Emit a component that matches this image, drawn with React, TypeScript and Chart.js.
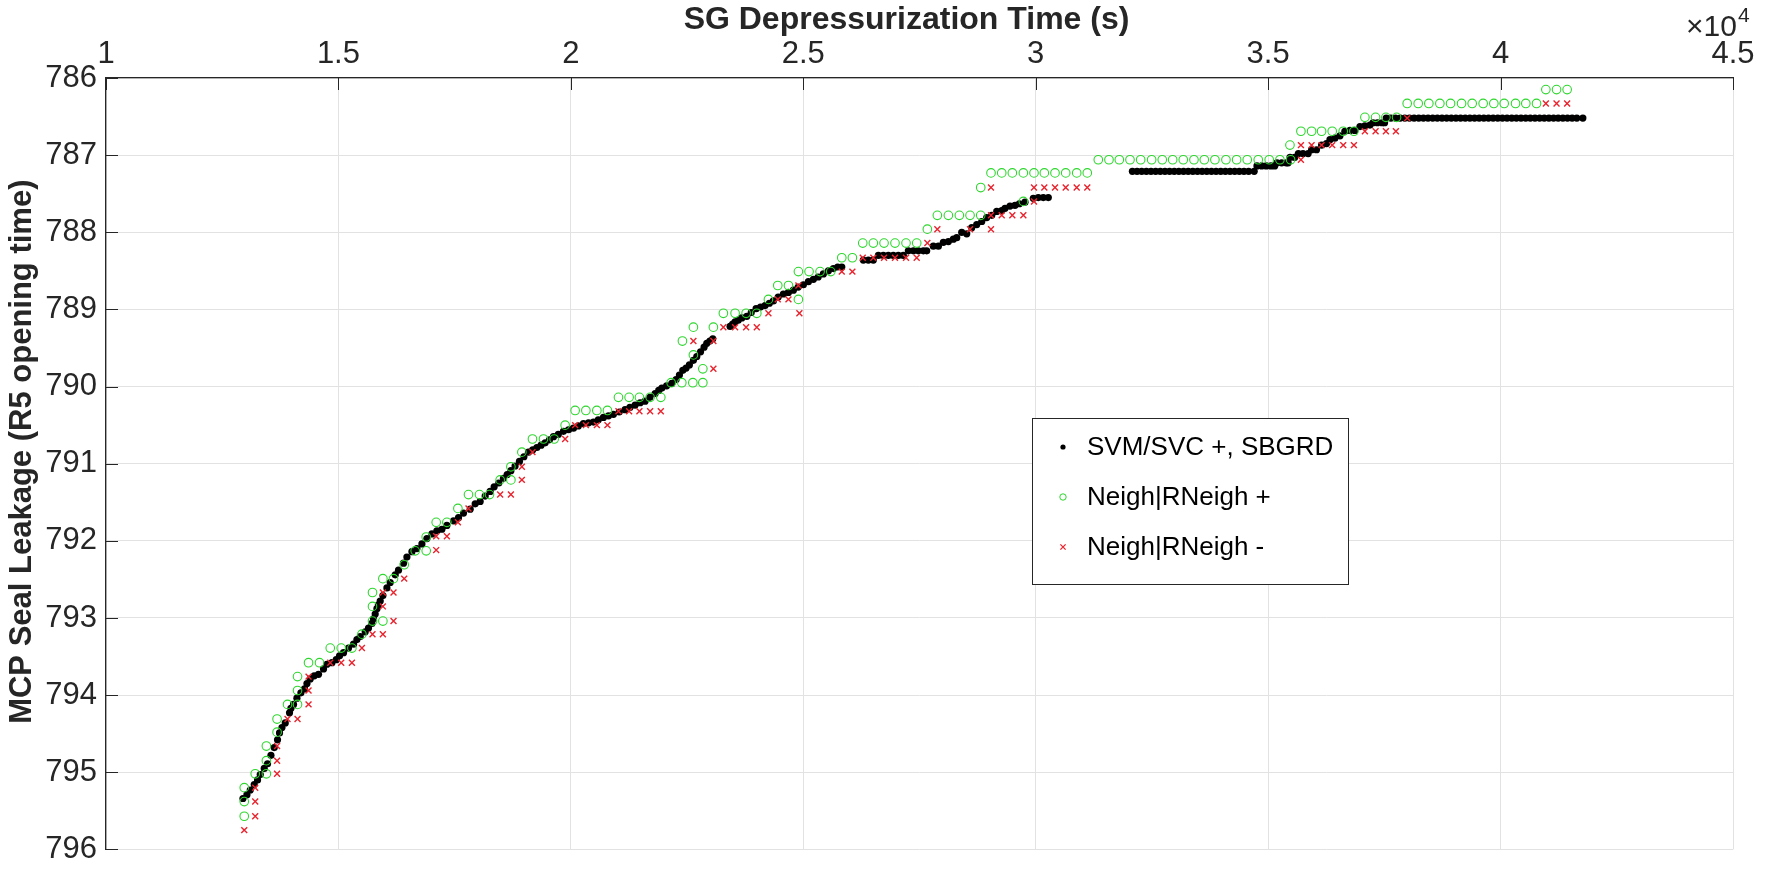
import React, { useEffect, useRef } from 'react';
import { Chart, registerables } from 'chart.js';

Chart.register(...registerables);

// ---------------- data ----------------
const xTickLabels = ['1', '1.5', '2', '2.5', '3', '3.5', '4', '4.5'];
const yTickLabels = ['786', '787', '788', '789', '790', '791', '792', '793', '794', '795', '796'];
const seriesLabels = ['SVM/SVC +, SBGRD', 'Neigh|RNeigh +', 'Neigh|RNeigh -'];
const xAxisTitle = 'SG Depressurization Time (s)';
const yAxisTitle = 'MCP Seal Leakage (R5 opening time)';

// SVM/SVC +, SBGRD  [time (s), leakage]
const svmSeries: [number, number][] = [
  [12946, 795.34], [13032, 795.29], [13103, 795.23], [13189, 795.16], [13260, 795.10], [13318, 795.03],
  [13404, 794.95], [13475, 794.89], [13548, 794.78], [13619, 794.68], [13690, 794.58], [13733, 794.49],
  [13785, 794.42], [13856, 794.36], [13948, 794.23], [13978, 794.17], [14034, 794.12], [14107, 794.04],
  [14193, 793.97], [14271, 793.92], [14323, 793.85], [14393, 793.79], [14479, 793.75], [14572, 793.73],
  [14679, 793.66], [14752, 793.60], [14860, 793.58], [14953, 793.54], [15024, 793.49], [15110, 793.45],
  [15217, 793.39], [15325, 793.34], [15398, 793.28], [15469, 793.24], [15576, 793.18], [15647, 793.13],
  [15720, 793.07], [15755, 793.01], [15791, 792.95], [15828, 792.88], [15860, 792.83], [15899, 792.78],
  [15957, 792.71], [16043, 792.61], [16114, 792.54], [16222, 792.44], [16292, 792.38], [16400, 792.29],
  [16473, 792.21], [16581, 792.14], [16688, 792.10], [16796, 792.04], [16903, 791.97], [17011, 791.91],
  [17118, 791.87], [17226, 791.85], [17333, 791.80], [17476, 791.74], [17583, 791.70], [17691, 791.64],
  [17834, 791.59], [17942, 791.52], [18049, 791.49], [18157, 791.42], [18264, 791.36], [18350, 791.30],
  [18450, 791.25], [18550, 791.19], [18630, 791.14], [18710, 791.09], [18800, 791.03], [18894, 790.97],
  [18990, 790.91], [19088, 790.85], [19180, 790.82], [19269, 790.79], [19360, 790.76], [19447, 790.73],
  [19540, 790.69], [19626, 790.65], [19730, 790.62], [19841, 790.58], [19950, 790.56], [20056, 790.54],
  [20160, 790.51], [20271, 790.48], [20380, 790.47], [20486, 790.46], [20590, 790.43], [20701, 790.40],
  [20810, 790.38], [20916, 790.36], [21040, 790.33], [21167, 790.30], [21270, 790.27], [21382, 790.24],
  [21490, 790.21], [21597, 790.19], [21700, 790.14], [21813, 790.09], [21890, 790.05], [21957, 790.02],
  [22060, 789.99], [22172, 789.96], [22264, 789.91], [22335, 789.85], [22408, 789.79], [22479, 789.76],
  [22550, 789.72], [22636, 789.66], [22709, 789.61], [22790, 789.55], [22866, 789.49], [22924, 789.44],
  [22990, 789.41], [23053, 789.38], [23425, 789.22], [23480, 789.19], [23533, 789.16], [23600, 789.14],
  [23677, 789.11], [23785, 789.09], [23880, 789.04], [23985, 788.99], [24080, 788.97], [24178, 788.95],
  [24270, 788.92], [24357, 788.89], [24460, 788.84], [24572, 788.80], [24680, 788.78], [24787, 788.75],
  [24890, 788.71], [25002, 788.68], [25110, 788.64], [25217, 788.61], [25320, 788.58], [25432, 788.54],
  [25540, 788.50], [25647, 788.47], [25740, 788.45], [25828, 788.45], [26292, 788.36], [26400, 788.36],
  [26507, 788.36], [26615, 788.30], [26722, 788.30], [26830, 788.30], [26937, 788.30], [27045, 788.30],
  [27152, 788.30], [27260, 788.24], [27368, 788.24], [27475, 788.24], [27583, 788.24], [27655, 788.24],
  [27798, 788.18], [27906, 788.18], [28013, 788.13], [28121, 788.12], [28228, 788.09], [28301, 788.07],
  [28408, 788.00], [28516, 788.02], [28623, 787.94], [28731, 787.90], [28839, 787.86], [28946, 787.81],
  [29054, 787.78], [29161, 787.73], [29269, 787.72], [29339, 787.69], [29447, 787.66], [29554, 787.65],
  [29647, 787.63], [29769, 787.61], [29948, 787.56], [30056, 787.55], [30163, 787.55], [30271, 787.55],
  [32080, 787.21], [32180, 787.21], [32280, 787.21], [32380, 787.21], [32480, 787.21], [32580, 787.21],
  [32680, 787.21], [32780, 787.21], [32880, 787.21], [32980, 787.21], [33080, 787.21], [33180, 787.21],
  [33280, 787.21], [33380, 787.21], [33480, 787.21], [33580, 787.21], [33680, 787.21], [33780, 787.21],
  [33880, 787.21], [33980, 787.21], [34080, 787.21], [34180, 787.21], [34280, 787.21], [34380, 787.21],
  [34480, 787.21], [34580, 787.21], [34700, 787.21], [34760, 787.14], [34860, 787.14], [34960, 787.14],
  [35060, 787.14], [35140, 787.14], [35190, 787.10], [35290, 787.10], [35390, 787.10], [35430, 787.10],
  [35470, 787.03], [35570, 787.03], [35650, 786.98], [35750, 786.98], [35860, 786.98], [35935, 786.93],
  [36040, 786.93], [36150, 786.87], [36255, 786.85], [36330, 786.80], [36435, 786.78], [36545, 786.75],
  [36650, 786.69], [36760, 786.68], [36865, 786.68], [36975, 786.63], [37080, 786.62], [37190, 786.61],
  [37255, 786.58], [37350, 786.58], [37450, 786.58], [37505, 786.58], [37540, 786.52], [37640, 786.52],
  [37740, 786.52], [37840, 786.52], [37940, 786.52], [38040, 786.52], [38140, 786.52], [38240, 786.52],
  [38340, 786.52], [38440, 786.52], [38540, 786.52], [38640, 786.52], [38740, 786.52], [38840, 786.52],
  [38940, 786.52], [39040, 786.52], [39140, 786.52], [39240, 786.52], [39340, 786.52], [39440, 786.52],
  [39540, 786.52], [39640, 786.52], [39740, 786.52], [39840, 786.52], [39940, 786.52], [40040, 786.52],
  [40140, 786.52], [40240, 786.52], [40340, 786.52], [40440, 786.52], [40540, 786.52], [40640, 786.52],
  [40740, 786.52], [40840, 786.52], [40940, 786.52], [41040, 786.52], [41140, 786.52], [41240, 786.52],
  [41340, 786.52], [41440, 786.52], [41540, 786.52], [41640, 786.52], [41770, 786.52],
];

// Neigh|RNeigh +
const neighPlusSeries: [number, number][] = [
  [12974, 795.57], [12974, 795.38], [12974, 795.20], [13210, 795.02], [13450, 795.02], [13450, 794.85],
  [13450, 794.66], [13680, 794.48], [13680, 794.31], [13905, 794.12], [14120, 794.12], [14120, 793.94],
  [14120, 793.76], [14357, 793.58], [14593, 793.58], [14824, 793.39], [15060, 793.39], [15290, 793.39],
  [15505, 793.21], [15733, 793.04], [15956, 793.04], [15733, 792.85], [15733, 792.67], [15956, 792.49],
  [16185, 792.49], [16415, 792.31], [16651, 792.13], [16888, 792.13], [16888, 791.95], [17103, 791.76],
  [17333, 791.76], [17570, 791.58], [17798, 791.40], [18034, 791.40], [18250, 791.40], [18479, 791.21],
  [18710, 791.21], [18710, 791.04], [18946, 790.85], [19174, 790.68], [19411, 790.68], [19641, 790.68],
  [19877, 790.50], [20092, 790.31], [20323, 790.31], [20559, 790.31], [20787, 790.31], [21024, 790.14],
  [21253, 790.14], [21475, 790.14], [21705, 790.14], [21935, 790.14], [22157, 789.95], [22387, 789.95],
  [22624, 789.95], [22839, 789.95], [22839, 789.77], [22636, 789.59], [22400, 789.41], [22636, 789.23],
  [23066, 789.23], [23281, 789.05], [23533, 789.05], [23770, 789.05], [24000, 789.05], [24250, 788.87],
  [24895, 788.87], [24451, 788.69], [24681, 788.69], [24895, 788.51], [25124, 788.51], [25361, 788.51],
  [25591, 788.51], [25828, 788.33], [26056, 788.33], [26279, 788.14], [26507, 788.14], [26737, 788.14],
  [26973, 788.14], [27210, 788.14], [27440, 788.14], [27669, 787.96], [27884, 787.78], [28121, 787.78],
  [28357, 787.78], [28587, 787.78], [28817, 787.78], [28817, 787.42], [29038, 787.23], [29269, 787.23],
  [29497, 787.23], [29734, 787.23], [29963, 787.23], [30185, 787.23], [30415, 787.23], [30645, 787.23],
  [30882, 787.23], [31109, 787.23], [29734, 787.60], [31346, 787.06], [31576, 787.06], [31798, 787.06],
  [32028, 787.06], [32258, 787.06], [32494, 787.06], [32722, 787.06], [32946, 787.06], [33174, 787.06],
  [33404, 787.06], [33626, 787.06], [33855, 787.06], [34092, 787.06], [34322, 787.06], [34550, 787.06],
  [34787, 787.06], [35023, 787.06], [35253, 787.06], [35483, 787.06], [35469, 786.87], [35705, 786.69],
  [35935, 786.69], [36150, 786.69], [36378, 786.69], [36615, 786.69], [36845, 786.69], [37081, 786.51],
  [37311, 786.51], [37533, 786.51], [37763, 786.51], [37991, 786.33], [38228, 786.33], [38457, 786.33],
  [38694, 786.33], [38924, 786.33], [39161, 786.33], [39389, 786.33], [39625, 786.33], [39855, 786.33],
  [40077, 786.33], [40322, 786.33], [40543, 786.33], [40773, 786.33], [40974, 786.15], [41204, 786.15],
  [41432, 786.15],
];

// Neigh|RNeigh -
const neighMinusSeries: [number, number][] = [
  [12974, 795.75], [13210, 795.57], [13210, 795.38], [13210, 795.20], [13680, 795.02], [13680, 794.85],
  [13680, 794.66], [13905, 794.31], [14120, 794.31], [14357, 794.12], [14357, 793.94], [14357, 793.76],
  [14824, 793.58], [15060, 793.58], [15290, 793.58], [15505, 793.39], [15733, 793.21], [15956, 793.21],
  [16185, 793.04], [15956, 792.85], [15956, 792.67], [16185, 792.67], [16415, 792.49], [17103, 792.12],
  [17103, 791.94], [17333, 791.94], [17570, 791.76], [17798, 791.58], [18479, 791.40], [18710, 791.40],
  [18946, 791.21], [18946, 791.04], [19174, 790.85], [19877, 790.68], [20092, 790.50], [20323, 790.50],
  [20559, 790.50], [20787, 790.50], [21024, 790.32], [21253, 790.32], [21475, 790.32], [21705, 790.32],
  [21935, 790.32], [22636, 789.41], [23066, 789.41], [23066, 789.77], [23281, 789.23], [23533, 789.23],
  [23770, 789.23], [24000, 789.23], [24250, 789.05], [24916, 789.05], [24451, 788.87], [24681, 788.87],
  [24895, 788.69], [25828, 788.51], [26056, 788.51], [26279, 788.33], [26507, 788.33], [26737, 788.33],
  [26973, 788.33], [27210, 788.33], [27440, 788.33], [27669, 788.14], [27884, 787.96], [28587, 787.96],
  [29038, 787.96], [29038, 787.78], [29269, 787.78], [29497, 787.78], [29734, 787.78], [29038, 787.42],
  [29963, 787.60], [29963, 787.42], [30185, 787.42], [30415, 787.42], [30645, 787.42], [30882, 787.42],
  [31109, 787.42], [35705, 787.06], [35705, 786.87], [35935, 786.87], [36150, 786.87], [36378, 786.87],
  [36615, 786.87], [36845, 786.87], [37081, 786.69], [37311, 786.69], [37533, 786.69], [37748, 786.69],
  [37991, 786.52], [40974, 786.33], [41204, 786.33], [41432, 786.33],
];

// ---------------- styling ----------------
const FONT = '"Liberation Sans", Arial, Helvetica, sans-serif';
const AXIS_COLOR = '#262626';
const GRID_COLOR = '#e2e2e2';
const BLACK = '#000000';
const GREEN = 'rgb(45, 215, 45)';
const RED = 'rgb(232, 36, 46)';

const toPoints = (s: [number, number][]) => s.map(([x, y]) => ({ x, y }));

function drawMarker(ctx: CanvasRenderingContext2D, style: string, color: string, r: number, x: number, y: number) {
  ctx.save();
  if (style === 'dot') {
    ctx.fillStyle = color;
    ctx.beginPath();
    ctx.arc(x, y, r, 0, Math.PI * 2);
    ctx.fill();
  } else if (style === 'circle') {
    ctx.strokeStyle = color;
    ctx.lineWidth = 1;
    ctx.beginPath();
    ctx.arc(x, y, r, 0, Math.PI * 2);
    ctx.stroke();
  } else {
    ctx.strokeStyle = color;
    ctx.lineWidth = 1.3;
    ctx.beginPath();
    ctx.moveTo(x - r, y - r);
    ctx.lineTo(x + r, y + r);
    ctx.moveTo(x + r, y - r);
    ctx.lineTo(x - r, y + r);
    ctx.stroke();
  }
  ctx.restore();
}

const legendStyles = [
  { style: 'dot', color: BLACK, r: 2.6 },
  { style: 'circle', color: GREEN, r: 3.2 },
  { style: 'cross', color: RED, r: 2.6 },
];

const matlabPlugin = {
  id: 'matlabDecor',
  beforeDatasetsDraw(chart: any) {
    const { ctx, chartArea, scales } = chart;
    ctx.save();
    ctx.strokeStyle = AXIS_COLOR;
    ctx.lineWidth = 1;
    const tl = 12;
    scales.x.ticks.forEach((t: any) => {
      const px = Math.round(scales.x.getPixelForValue(t.value)) + 0.5;
      ctx.beginPath();
      ctx.moveTo(px, chartArea.top);
      ctx.lineTo(px, chartArea.top + tl);
      ctx.stroke();
    });
    scales.y.ticks.forEach((t: any) => {
      const py = Math.round(scales.y.getPixelForValue(t.value)) + 0.5;
      ctx.beginPath();
      ctx.moveTo(chartArea.left, py);
      ctx.lineTo(chartArea.left + tl, py);
      ctx.stroke();
    });
    ctx.restore();
  },
  afterDraw(chart: any) {
    const { ctx, chartArea } = chart;
    ctx.save();
    // axis titles (MATLAB-style placement)
    ctx.fillStyle = AXIS_COLOR;
    ctx.font = `bold 32px ${FONT}`;
    ctx.textAlign = 'center';
    ctx.textBaseline = 'middle';
    ctx.fillText(xAxisTitle, (chartArea.left + chartArea.right) / 2 - 13, 20);
    ctx.save();
    ctx.translate(22, (chartArea.top + chartArea.bottom) / 2 - 12);
    ctx.rotate(-Math.PI / 2);
    ctx.font = `bold 31px ${FONT}`;
    ctx.fillText(yAxisTitle, 0, 0);
    ctx.restore();

    // x10^4 exponent label
    ctx.fillStyle = AXIS_COLOR;
    ctx.textBaseline = 'alphabetic';
    ctx.textAlign = 'left';
    ctx.font = `30px ${FONT}`;
    const bx = 1686;
    ctx.fillText('\u00D710', bx, 36);
    const w = ctx.measureText('\u00D710').width;
    ctx.font = `21px ${FONT}`;
    ctx.fillText('4', bx + w + 1, 22);

    // legend box
    const x0 = 1032, y0 = 418, w0 = 316, h0 = 166;
    ctx.fillStyle = '#ffffff';
    ctx.fillRect(x0, y0, w0, h0);
    ctx.strokeStyle = AXIS_COLOR;
    ctx.lineWidth = 1;
    ctx.strokeRect(x0 + 0.5, y0 + 0.5, w0, h0);
    ctx.font = `26px ${FONT}`;
    ctx.textBaseline = 'middle';
    chart.data.datasets.forEach((ds: any, i: number) => {
      const cy = y0 + 29 + i * 50;
      const st = legendStyles[i];
      drawMarker(ctx, st.style, st.color, st.r, x0 + 31, cy);
      ctx.fillStyle = '#000000';
      ctx.fillText(ds.label, x0 + 55, cy + 1);
    });
    ctx.restore();
  },
};

export default function App() {
  const canvasRef = useRef<HTMLCanvasElement | null>(null);

  useEffect(() => {
    if (!canvasRef.current) return;
    Chart.defaults.font.family = FONT;
    const chart = new Chart(canvasRef.current, {
      type: 'scatter',
      data: {
        datasets: [
          {
            label: seriesLabels[0],
            data: toPoints(svmSeries),
            pointStyle: 'circle',
            pointRadius: 3.6,
            pointBackgroundColor: BLACK,
            pointBorderColor: BLACK,
            pointBorderWidth: 0,
            order: 3,
          },
          {
            label: seriesLabels[1],
            data: toPoints(neighPlusSeries),
            pointStyle: 'circle',
            pointRadius: 4.3,
            pointBackgroundColor: 'rgba(0,0,0,0)',
            pointBorderColor: GREEN,
            pointBorderWidth: 1.1,
            order: 2,
          },
          {
            label: seriesLabels[2],
            data: toPoints(neighMinusSeries),
            pointStyle: 'crossRot',
            pointRadius: 4.2,
            pointBackgroundColor: RED,
            pointBorderColor: RED,
            pointBorderWidth: 1.4,
            order: 1,
          },
        ],
      },
      options: {
        responsive: false,
        maintainAspectRatio: false,
        devicePixelRatio: 1,
        animation: false,
        events: [],
        layout: { padding: { left: 0, right: 36, top: 0, bottom: 11 } },
        plugins: {
          legend: { display: false },
          tooltip: { enabled: false },
          title: { display: false },
        },
        scales: {
          x: {
            type: 'linear',
            position: 'top',
            min: 10000,
            max: 45000,
            ticks: {
              stepSize: 5000,
              autoSkip: false,
              maxRotation: 0,
              padding: 5,
              color: AXIS_COLOR,
              font: { size: 31, family: FONT },
              callback: (v: any) => {
                const i = Math.round((Number(v) - 10000) / 5000);
                return xTickLabels[i] ?? '';
              },
            },
            grid: { color: GRID_COLOR, lineWidth: 1, drawTicks: false },
            border: { color: AXIS_COLOR, width: 1.3 },
            title: { display: false, text: xAxisTitle },
            afterFit: (s: any) => {
              s.height = 78;
            },
          },
          y: {
            type: 'linear',
            reverse: true,
            min: 786,
            max: 796,
            ticks: {
              stepSize: 1,
              autoSkip: false,
              padding: 9,
              color: AXIS_COLOR,
              font: { size: 31, family: FONT },
              callback: (v: any) => {
                const i = Math.round(Number(v) - 786);
                return yTickLabels[i] ?? '';
              },
            },
            grid: { color: GRID_COLOR, lineWidth: 1, drawTicks: false },
            border: { color: AXIS_COLOR, width: 1.3 },
            title: { display: false, text: yAxisTitle },
            afterFit: (s: any) => {
              s.width = 106;
            },
          },
        },
      },
      plugins: [matlabPlugin],
    } as any);
    return () => chart.destroy();
  }, []);

  return (
    <div style={{ position: 'absolute', left: 0, top: 0, width: 1769, height: 877, background: '#ffffff' }}>
      <canvas ref={canvasRef} width={1769} height={877} style={{ display: 'block' }} />
    </div>
  );
}
